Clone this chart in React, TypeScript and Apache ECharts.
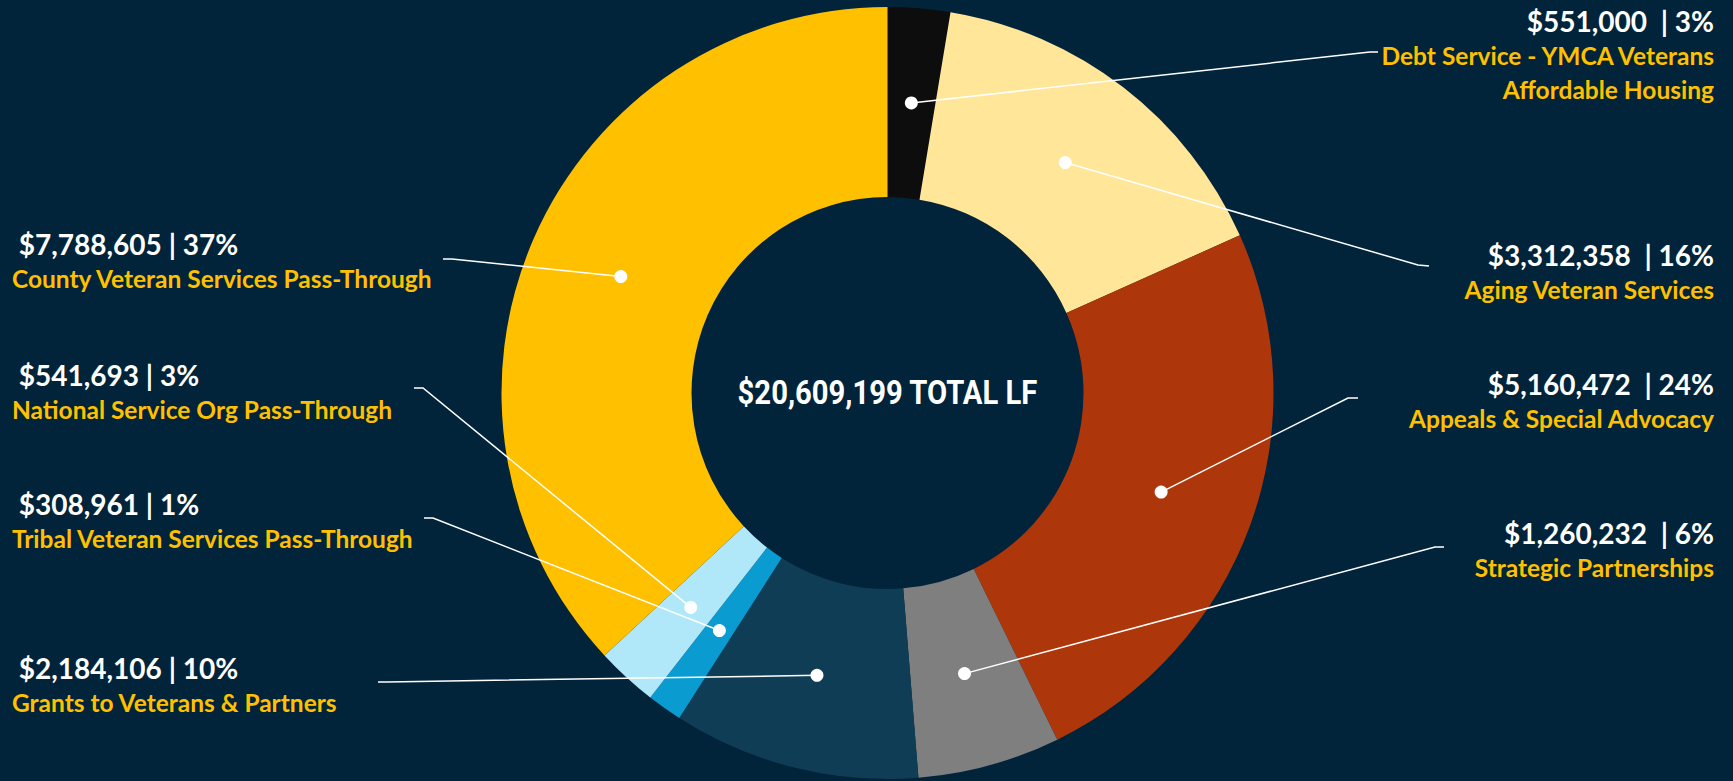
import React, { useEffect, useRef } from 'react';
import * as echarts from 'echarts';

// ---- data ----
const categories = [
  'Debt Service - YMCA Veterans\nAffordable Housing',
  'Aging Veteran Services',
  'Appeals & Special Advocacy',
  'Strategic Partnerships',
  'Grants to Veterans & Partners',
  'Tribal Veteran Services Pass-Through',
  'National Service Org Pass-Through',
  'County Veteran Services Pass-Through',
];
const values = [551000, 3312358, 5160472, 1260232, 2184106, 308961, 541693, 7788605];
const percentLabels = ['3%', '16%', '24%', '6%', '10%', '1%', '3%', '37%'];
const sliceColors = ['#0D0D0D', '#FFE699', '#AD370B', '#7F7F7F', '#0F3D55', '#0A9BD0', '#B0E8FA', '#FFC000'];
const totalLabel = '$20,609,199 TOTAL LF';

// ---- layout (positions only) ----
const W = 1733;
const H = 781;
const CX = 887.5;
const CY = 393;
const R_IN = 196;
const R_OUT = 386;
const R_DOT = (R_IN + R_OUT) / 2;
const BG = '#02243A';

type Anchor = { side: 'left' | 'right'; x: number; y: number; elbow: [number, number]; end: [number, number] };
const labelAnchors: Anchor[] = [
  { side: 'right', x: 1714, y: 55, elbow: [1370, 52], end: [1378, 52] },
  { side: 'right', x: 1714, y: 272, elbow: [1418, 265], end: [1429, 266] },
  { side: 'right', x: 1714, y: 401, elbow: [1348, 398], end: [1358, 398] },
  { side: 'right', x: 1714, y: 550, elbow: [1435, 547], end: [1444, 547] },
  { side: 'left', x: 12, y: 685, elbow: [387, 682], end: [378, 682] },
  { side: 'left', x: 12, y: 521, elbow: [433, 518], end: [424, 518] },
  { side: 'left', x: 12, y: 392, elbow: [423, 388], end: [414, 388] },
  { side: 'left', x: 12, y: 261, elbow: [452, 259], end: [443, 259] },
];

const FONT = 'Lato, "Noto Sans", sans-serif';

function fmtMoney(v: number) {
  return '$' + v.toLocaleString('en-US');
}

export default function App() {
  const ref = useRef<HTMLDivElement>(null);

  useEffect(() => {
    if (!ref.current) return;
    const chart = echarts.init(ref.current, undefined, { renderer: 'svg' });
    const sum = values.reduce((a, b) => a + b, 0);
    const mids: number[] = [];
    let cum = 0;
    values.forEach((v) => {
      mids.push(cum + v / 2);
      cum += v;
    });

    const dotPoint = (i: number): [number, number] => {
      const a = (mids[i] / sum) * Math.PI * 2;
      return [CX + R_DOT * Math.sin(a), CY - R_DOT * Math.cos(a)];
    };

    const sliceData = values.map((v, i) => ({
      value: v,
      name: categories[i],
      itemStyle: { color: sliceColors[i] },
    }));

    const labelData = values.map((v, i) => {
      const side = labelAnchors[i].side;
      const sep = side === 'right' ? '  | ' : ' | ';
      const lead = side === 'left' ? ' ' : '';
      const catLines = categories[i].split('\n').map((l) => `{c|${l}}`).join('\n');
      return {
        value: v,
        name: categories[i],
        itemStyle: { color: 'rgba(0,0,0,0)' },
        label: {
          formatter: `{v|${lead}${fmtMoney(v)}${sep}${percentLabels[i]}}\n${catLines}`,
        },
      };
    });

    chart.setOption({
      animation: false,
      backgroundColor: BG,
      polar: { center: [CX, CY], radius: R_OUT },
      angleAxis: {
        type: 'value', min: 0, max: sum, startAngle: 90, clockwise: true, show: false,
        axisLine: { show: false }, axisTick: { show: false }, axisLabel: { show: false }, splitLine: { show: false },
      },
      radiusAxis: {
        type: 'value', min: 0, max: R_OUT, show: false,
        axisLine: { show: false }, axisTick: { show: false }, axisLabel: { show: false }, splitLine: { show: false },
      },
      series: [
        {
          type: 'pie',
          center: [CX, CY],
          radius: [R_IN, R_OUT],
          startAngle: 90,
          clockwise: true,
          silent: true,
          data: sliceData,
          itemStyle: { borderWidth: 0 },
          label: { show: false },
          labelLine: { show: false },
          z: 2,
        },
        {
          type: 'pie',
          center: [CX, CY],
          radius: [R_IN, R_OUT],
          startAngle: 90,
          clockwise: true,
          avoidLabelOverlap: false,
          silent: true,
          data: labelData,
          itemStyle: { borderWidth: 0 },
          label: {
            show: true,
            position: 'outside',
            rich: {
              v: { color: '#FFFFFF', fontSize: 28, fontWeight: 'bold', fontFamily: FONT, lineHeight: 35 },
              c: { color: '#FFC000', fontSize: 24.5, fontWeight: 'bold', fontFamily: FONT, lineHeight: 34 },
            },
          },
          labelLine: { show: true, smooth: false, lineStyle: { color: '#FFFFFF', width: 1.5 } },
          labelLayout: (params: any) => {
            const i = params.dataIndex;
            const a = labelAnchors[i];
            return {
              x: a.x,
              y: a.y,
              align: a.side === 'right' ? 'right' : 'left',
              verticalAlign: 'middle',
              labelLinePoints: [dotPoint(i), a.elbow, a.end],
            };
          },
          z: 3,
        },
        {
          type: 'scatter',
          coordinateSystem: 'polar',
          symbol: 'circle',
          symbolSize: 13,
          itemStyle: { color: '#FFFFFF', opacity: 1 },
          silent: true,
          data: mids.map((m) => [R_DOT, m]),
          z: 5,
        },
      ],
      graphic: [
        {
          type: 'text',
          x: CX,
          y: CY,
          scaleX: 0.86,
          style: {
            text: totalLabel,
            fill: '#FFFFFF',
            font: 'bold 34px Roboto, sans-serif',
            textAlign: 'center',
            textVerticalAlign: 'middle',
          },
          z: 10,
        },
      ],
    });

    return () => chart.dispose();
  }, []);

  return (
    <div
      ref={ref}
      style={{ position: 'absolute', left: 0, top: 0, width: W, height: H, background: BG }}
    />
  );
}
